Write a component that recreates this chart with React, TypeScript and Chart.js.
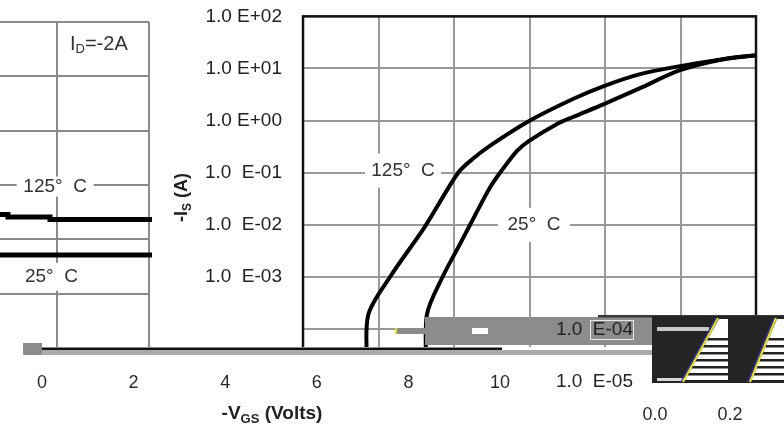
import React, { useEffect, useRef } from 'react';
import { Chart, registerables } from 'chart.js';
Chart.register(...registerables);

const FONT = "'Liberation Sans', Arial, Helvetica, sans-serif";

// ---------- Right chart: -Is (A, log) vs voltage ----------
const vTicks = [0, 0.2, 0.4, 0.6, 0.8, 1.0, 1.2];
const isDecades = [1e-5, 1e-4, 1e-3, 1e-2, 1e-1, 1e0, 1e1, 1e2];
const isTickLabels = ['1.0  E-05', '1.0  E-04', '1.0  E-03', '1.0  E-02', '1.0  E-01', '1.0 E+00', '1.0 E+01', '1.0 E+02'];
const hiddenTickLabels = ['1.0  E-05', '1.0  E-04'];

const v125 = [0.172, 0.172, 0.230, 0.323, 0.411, 0.450, 0.495, 0.599, 0.715, 0.797, 0.893, 0.999, 1.113, 1.2];
const is125 = [1e-5, 1.76e-4, 9.8e-4, 9.2e-3, 0.0995, 0.185, 0.327, 0.98, 2.59, 4.59, 7.78, 11.1, 15.1, 17.9];
const v25 = [0.328, 0.328, 0.368, 0.421, 0.458, 0.495, 0.522, 0.567, 0.599, 0.673, 0.715, 0.797, 0.893, 0.999, 1.113, 1.2];
const is25 = [1e-5, 1.84e-4, 9.4e-4, 5.0e-3, 0.0164, 0.0514, 0.0995, 0.262, 0.407, 0.861, 1.17, 2.07, 4.2, 9.27, 15.1, 17.9];

// ---------- Left chart (partial) ----------
const lx125 = [2, 2.467, 2.924, 3.630, 4.033];
const ly125 = [2.494, 2.457, 2.411, 2.365, 2.365];
const lx25 = [2, 3, 4.033];
const ly25 = [1.767, 1.712, 1.712];

// ---------- Bottom axis ----------
const vgsTicks = [0, 2, 4, 6, 8, 10];
const strayXLabels = ['0.0', '0.2'];

const curveNames = ['125°  C', '25°  C'];

const R_OFF = 16; // right-chart canvas is shifted up by this much

type Part = [string, boolean];
function drawParts(ctx: CanvasRenderingContext2D, parts: Part[], cx: number, cy: number, size: number, subSize: number, bold: boolean, color: string) {
  const w = bold ? 'bold ' : '';
  let total = 0;
  for (const [t, sub] of parts) {
    ctx.font = `${w}${sub ? subSize : size}px ${FONT}`;
    total += ctx.measureText(t).width;
  }
  let x = cx - total / 2;
  ctx.fillStyle = color;
  ctx.textBaseline = 'middle';
  ctx.textAlign = 'left';
  for (const [t, sub] of parts) {
    ctx.font = `${w}${sub ? subSize : size}px ${FONT}`;
    ctx.fillText(t, x, cy + (sub ? size * 0.3 : 0));
    x += ctx.measureText(t).width;
  }
}

function boxLabel(ctx: CanvasRenderingContext2D, text: string, x: number, y: number, w: number, h: number, size: number) {
  ctx.fillStyle = '#fff';
  ctx.fillRect(x - w / 2, y - h / 2, w, h);
  ctx.fillStyle = '#333';
  ctx.font = `${size}px ${FONT}`;
  ctx.textAlign = 'center';
  ctx.textBaseline = 'middle';
  ctx.fillText(text, x, y);
}

export default function App() {
  const rRef = useRef<HTMLCanvasElement>(null);
  const lRef = useRef<HTMLCanvasElement>(null);
  const bRef = useRef<HTMLCanvasElement>(null);

  useEffect(() => {
    const charts: Chart[] = [];
    const grid = { color: '#9a9a9a', lineWidth: 2, drawTicks: false };

    const rPlugin = {
      id: 'rdeco',
      beforeDatasetsDraw(chart: any) {
        const { ctx, chartArea: a, scales } = chart;
        ctx.save();
        ctx.strokeStyle = '#111';
        ctx.lineWidth = 2.5;
        ctx.strokeRect(a.left, a.top, a.right - a.left, a.bottom - a.top);
        boxLabel(ctx, curveNames[0], scales.x.getPixelForValue(0.265), scales.y.getPixelForValue(0.1) - 2, 76, 34, 19);
        boxLabel(ctx, curveNames[1], scales.x.getPixelForValue(0.612), scales.y.getPixelForValue(0.01), 72, 34, 19);
        ctx.restore();
      },
      afterDraw(chart: any) {
        const { ctx, chartArea: a } = chart;
        ctx.save();
        ctx.translate(182, a.top + 181);
        ctx.rotate(-Math.PI / 2);
        drawParts(ctx, [['-I', false], ['S', true], [' (A)', false]], 0, 0, 18, 12, true, '#222');
        ctx.restore();
      },
    };

    if (rRef.current) {
      charts.push(new Chart(rRef.current, {
        type: 'line',
        data: {
          datasets: [
            { data: v125.map((x, i) => ({ x, y: is125[i] })), borderColor: '#000', borderWidth: 4, pointRadius: 0, tension: 0.3, fill: false },
            { data: v25.map((x, i) => ({ x, y: is25[i] })), borderColor: '#000', borderWidth: 4, pointRadius: 0, tension: 0.3, fill: false },
          ],
        },
        options: {
          responsive: false,
          animation: false,
          events: [],
          layout: { padding: { top: 15, right: 28, left: 0, bottom: 0 } },
          plugins: { legend: { display: false }, tooltip: { enabled: false } },
          scales: {
            x: {
              type: 'linear', min: vTicks[0], max: vTicks[vTicks.length - 1],
              afterBuildTicks: (s: any) => { s.ticks = vTicks.map((v) => ({ value: v })); },
              ticks: { display: false },
              grid,
              border: { display: false },
              afterFit: (s: any) => { s.height = 47; },
            },
            y: {
              type: 'logarithmic', min: isDecades[0], max: isDecades[isDecades.length - 1],
              afterBuildTicks: (s: any) => { s.ticks = isDecades.map((v) => ({ value: v })); },
              ticks: {
                padding: 21,
                color: '#222',
                font: { family: FONT, size: 19 },
                callback: (v: any) => {
                  const i = isDecades.indexOf(Number(v));
                  const t = i >= 0 ? isTickLabels[i] : '';
                  return hiddenTickLabels.includes(t) ? '' : t;
                },
              },
              grid,
              border: { display: false },
              afterFit: (s: any) => { s.width = 303; },
            },
          },
        } as any,
        plugins: [rPlugin],
      }));
    }

    const lPlugin = {
      id: 'ldeco',
      beforeDatasetsDraw(chart: any) {
        const { ctx, scales } = chart;
        ctx.save();
        boxLabel(ctx, curveNames[0], scales.x.getPixelForValue(2.98), scales.y.getPixelForValue(2.97), 77, 20, 19);
        boxLabel(ctx, curveNames[1], scales.x.getPixelForValue(2.94), scales.y.getPixelForValue(1.31), 70, 28, 19);
        const x0 = scales.x.getPixelForValue(3.141);
        const y0 = scales.y.getPixelForValue(5.59);
        ctx.fillStyle = '#333';
        ctx.textBaseline = 'middle';
        ctx.textAlign = 'left';
        ctx.font = `20px ${FONT}`;
        ctx.fillText('I', x0, y0);
        let x = x0 + ctx.measureText('I').width;
        ctx.font = `13px ${FONT}`;
        ctx.fillText('D', x, y0 + 5);
        x += ctx.measureText('D').width;
        ctx.font = `20px ${FONT}`;
        ctx.fillText('=-2A', x, y0);
        ctx.restore();
      },
    };

    if (lRef.current) {
      const lgrid = { color: '#8a8a8a', lineWidth: 2, drawTicks: false };
      charts.push(new Chart(lRef.current, {
        type: 'line',
        data: {
          datasets: [
            { data: lx125.map((x, i) => ({ x, y: ly125[i] })), stepped: 'after', borderColor: '#000', borderWidth: 5, pointRadius: 0, clip: false, fill: false },
            { data: lx25.map((x, i) => ({ x, y: ly25[i] })), stepped: 'after', borderColor: '#000', borderWidth: 5, pointRadius: 0, clip: false, fill: false },
          ],
        },
        options: {
          responsive: false,
          animation: false,
          events: [],
          layout: { padding: { left: 0, right: 3, top: 22, bottom: 2 } },
          plugins: { legend: { display: false }, tooltip: { enabled: false } },
          scales: {
            x: { type: 'linear', min: 2, max: 4, ticks: { display: false, stepSize: 1 }, grid: lgrid, border: { display: false }, afterFit: (s: any) => { s.height = 0; } },
            y: { type: 'linear', min: 0, max: 6, ticks: { display: false, stepSize: 1 }, grid: lgrid, border: { display: false }, afterFit: (s: any) => { s.width = 0; } },
          },
        } as any,
        plugins: [lPlugin],
      }));
    }

    const bPlugin = {
      id: 'strip',
      beforeDraw(chart: any) {
        const { ctx } = chart;
        ctx.save();
        ctx.fillStyle = '#fff';
        ctx.fillRect(0, 347, 784, 81);
        ctx.fillStyle = '#ababab';
        ctx.fillRect(42, 350, 610, 5);
        ctx.fillStyle = '#111';
        ctx.fillRect(42, 347.5, 460, 2.5);
        ctx.fillStyle = '#8c8c8c';
        ctx.fillRect(23, 343, 19, 12);
        ctx.restore();
      },
      afterDraw(chart: any) {
        const { ctx } = chart;
        ctx.save();
        // glitch: gray band
        ctx.fillStyle = '#8c8c8c';
        ctx.fillRect(425, 317, 227, 28);
        ctx.fillRect(396, 328, 29, 6);
        ctx.fillStyle = '#e6e020';
        ctx.fillRect(395, 328, 2, 6);
        ctx.fillStyle = '#fff';
        ctx.fillRect(472, 328, 16, 6);
        ctx.fillStyle = '#3a3a3a';
        ctx.fillRect(598, 315, 186, 2.5);
        ctx.strokeStyle = '#e8e8e8';
        ctx.lineWidth = 1;
        ctx.strokeRect(590.5, 320.5, 43, 19);
        ctx.fillStyle = '#222';
        ctx.font = `19px ${FONT}`;
        ctx.textAlign = 'right';
        ctx.textBaseline = 'middle';
        ctx.fillText(hiddenTickLabels[1], 633, 330);
        ctx.fillText(hiddenTickLabels[0], 633, 382);

        // glitch: dark block with diagonal stripes
        ctx.fillStyle = '#242424';
        ctx.fillRect(652, 316, 132, 67);
        ctx.fillStyle = '#c8c8c8';
        ctx.fillRect(657, 327, 52, 4);
        ctx.fillStyle = '#d8d8d8';
        ctx.fillRect(657, 378, 28, 3);
        const stripe = (pts: number[][]) => {
          ctx.save();
          ctx.beginPath();
          ctx.moveTo(pts[0][0], pts[0][1]);
          for (let i = 1; i < pts.length; i++) ctx.lineTo(pts[i][0], pts[i][1]);
          ctx.closePath();
          ctx.fillStyle = '#fff';
          ctx.fill();
          ctx.clip();
          ctx.fillStyle = '#222';
          for (let y = 338; y < 381; y += 7) ctx.fillRect(640, y, 150, 2.5);
          ctx.restore();
          ctx.strokeStyle = '#3030c0';
          ctx.lineWidth = 1.5;
          ctx.beginPath();
          ctx.moveTo(pts[3][0] - 3, pts[3][1] + 1);
          ctx.lineTo(pts[0][0] - 3, pts[0][1] - 1);
          ctx.stroke();
          ctx.strokeStyle = '#e8e020';
          ctx.lineWidth = 2;
          ctx.beginPath();
          ctx.moveTo(pts[3][0] - 1, pts[3][1] + 1);
          ctx.lineTo(pts[0][0] - 1, pts[0][1] - 1);
          ctx.stroke();
        };
        stripe([[719, 319], [728, 319], [728, 381], [684, 381]]);
        stripe([[777, 319], [784, 319], [784, 381], [751, 381]]);

        // stray tick labels
        ctx.fillStyle = '#2a2a2a';
        ctx.font = `18px ${FONT}`;
        ctx.textAlign = 'center';
        ctx.textBaseline = 'middle';
        ctx.fillText(strayXLabels[0], 655, 415);
        ctx.fillText(strayXLabels[1], 730, 415);

        // axis title
        drawParts(ctx, [['-V', false], ['GS', true], [' (Volts)', false]], 272, 414, 19, 13, true, '#222');
        ctx.restore();
      },
    };

    if (bRef.current) {
      charts.push(new Chart(bRef.current, {
        type: 'line',
        data: { datasets: [] },
        options: {
          responsive: false,
          animation: false,
          events: [],
          layout: { padding: { left: 42, right: 284, top: 200, bottom: 10.2 } },
          plugins: { legend: { display: false }, tooltip: { enabled: false } },
          scales: {
            x: {
              type: 'linear', min: vgsTicks[0], max: vgsTicks[vgsTicks.length - 1],
              afterBuildTicks: (s: any) => { s.ticks = vgsTicks.map((v) => ({ value: v })); },
              ticks: { padding: 23.8, color: '#2a2a2a', font: { family: FONT, size: 18 }, maxRotation: 0, autoSkip: false },
              grid: { display: false, drawTicks: false },
              border: { display: false },
            },
            y: { display: false, min: 0, max: 1 },
          },
        } as any,
        plugins: [bPlugin],
      }));
    }

    return () => charts.forEach((c) => c.destroy());
  }, []);

  return (
    <div style={{ position: 'fixed', left: 0, top: 0, width: 784, height: 428, background: '#fff', overflow: 'hidden' }}>
      <canvas ref={rRef} width={784} height={428 + R_OFF} style={{ position: 'absolute', left: 0, top: -R_OFF, width: 784, height: 428 + R_OFF }} />
      <canvas ref={lRef} width={187} height={350} style={{ position: 'absolute', left: -35, top: 0, width: 187, height: 350 }} />
      <canvas ref={bRef} width={784} height={428} style={{ position: 'absolute', left: 0, top: 0, width: 784, height: 428 }} />
    </div>
  );
}
